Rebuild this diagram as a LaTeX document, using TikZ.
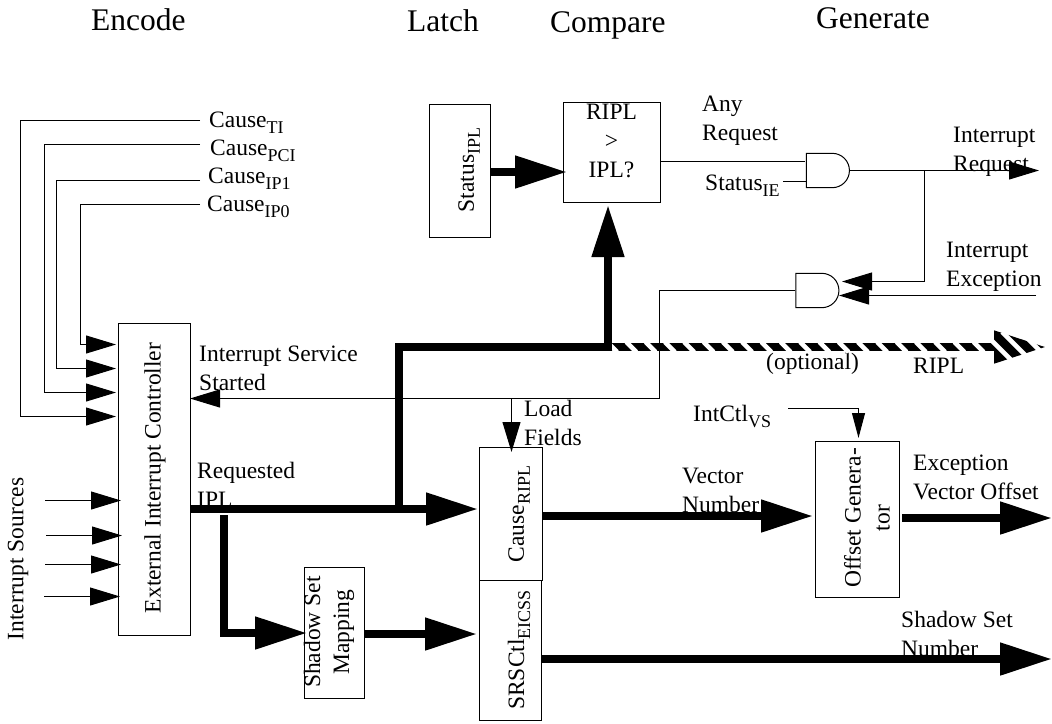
\documentclass[tikz,border=0pt]{standalone}
\usepackage{fontspec}
\setmainfont{Liberation Serif}
\usetikzlibrary{arrows.meta}
\usetikzlibrary{shapes.gates.logic.US}

\newcommand{\lowsub}[1]{\raisebox{-6pt}{\fontsize{18}{18}\selectfont #1}}

\tikzset{
    every node/.style={inner sep=0pt, font=\fontsize{23.5}{29}\selectfont},
    titletext/.style={anchor=base west, font=\fontsize{31.5}{36}\selectfont},
    labeltext/.style={anchor=base west, align=left},
    sidetext/.style={rotate=90, align=center},
    blockbox/.style={draw=black, line width=1pt, fill=white},
    gatebox/.style={and gate US, draw=black, line width=1pt, logic gate inputs=nn, minimum width=43pt, minimum height=33pt},
    sigline/.style={line width=1pt},
    sigarrow/.style={line width=1pt, -{Triangle[length=30pt, width=18pt]}},
    vsarrow/.style={line width=1pt, -{Triangle[length=25pt, width=13pt]}},
    busarrow/.style={line width=8pt, -{Triangle[length=52pt, width=31pt]}},
}

\begin{document}
\begin{tikzpicture}[x=1pt, y=-1pt]
    \useasboundingbox (0,0) rectangle (1052,723);

    \node[titletext] (encodetitle) at (91,30) {Encode};
    \node[titletext] (latchtitle) at (407,31) {Latch};
    \node[titletext] (comparetitle) at (550,32) {Compare};
    \node[titletext] (generatetitle) at (816,28) {Generate};

    \node[blockbox, minimum width=61pt, minimum height=133pt] (statusbox) at (459.5,170.5) {};
    \node[sidetext] (statustext) at (469,170) {Status\lowsub{IPL}};
    \node[blockbox, minimum width=97pt, minimum height=100pt] (comparebox) at (611.5,152) {};
    \node[align=center] (comparetext) at (611.5,141) {RIPL\\>\\IPL?};
    \node[blockbox, minimum width=72pt, minimum height=312pt] (extbox) at (154,479) {};
    \node[sidetext] (exttext) at (155,478) {External Interrupt Controller};
    \node[blockbox, minimum width=60pt, minimum height=131pt] (shadowbox) at (334,632.5) {};
    \node[sidetext] (shadowtext) at (329,632) {Shadow Set\\Mapping};
    \node[blockbox, minimum width=63pt, minimum height=133pt] (causebox) at (510.5,513.5) {};
    \node[sidetext] (causetext) at (519,514) {Cause\lowsub{RIPL}};
    \node[blockbox, minimum width=62pt, minimum height=140pt] (srsbox) at (510,650) {};
    \node[sidetext] (srstext) at (519,650) {SRSCtl\lowsub{EICSS}};
    \node[blockbox, minimum width=84pt, minimum height=156pt] (offsetbox) at (857,519) {};
    \node[sidetext] (offsettext) at (867,518) {Offset Genera-\\tor};

    \node[gatebox] (gaterequest) at (826.5,170.5) {};
    \node[gatebox, shape border rotate=180] (gateexception) at (816,290.5) {};

    \node[labeltext] (causeti) at (209,127) {Cause\lowsub{TI}};
    \node[labeltext] (causepci) at (210,155) {Cause\lowsub{PCI}};
    \node[labeltext] (causeipone) at (208,183) {Cause\lowsub{IP1}};
    \node[labeltext] (causeipzero) at (207,211) {Cause\lowsub{IP0}};
    \node[labeltext] (anyrequest) at (702,140) {Any\\Request};
    \node[labeltext] (statusie) at (705,190) {Status\lowsub{IE}};
    \node[labeltext] (intrequest) at (953,171) {Interrupt\\Request};
    \node[labeltext] (intexception) at (946,286) {Interrupt\\Exception};
    \node[labeltext] (optional) at (766,369) {(optional)};
    \node[labeltext] (ripltext) at (913,373) {RIPL};
    \node[labeltext] (servicestarted) at (199,390) {Interrupt Service\\Started};
    \node[labeltext] (loadfields) at (524,445) {Load\\Fields};
    \node[labeltext] (intctl) at (693,421) {IntCtl\lowsub{VS}};
    \node[labeltext] (requested) at (197,507) {Requested\\IPL};
    \node[labeltext] (vectornumber) at (682,512) {Vector\\Number};
    \node[labeltext] (vectoroffset) at (913,499) {Exception\\Vector Offset};
    \node[labeltext] (shadownumber) at (901,656) {Shadow Set\\Number};
    \node[sidetext] (sources) at (18,559) {Interrupt Sources};

    \coordinate (tione) at (200,120.5);
    \coordinate (titwo) at (20.5,120.5);
    \coordinate (tithree) at (20.5,416.5);
    \coordinate (titip) at (116,416.5);
    \coordinate (pcione) at (200,144.5);
    \coordinate (pcitwo) at (44.5,144.5);
    \coordinate (pcithree) at (44.5,392.5);
    \coordinate (pcitip) at (116,392.5);
    \coordinate (ipone) at (200,180.5);
    \coordinate (iptwo) at (56.5,180.5);
    \coordinate (ipthree) at (56.5,368.5);
    \coordinate (iptip) at (116,368.5);
    \coordinate (ipzero) at (200,204.5);
    \coordinate (ipzerotwo) at (80.5,204.5);
    \coordinate (ipzerothree) at (80.5,344.5);
    \coordinate (ipzerotip) at (116,344.5);

    \draw[sigarrow] (tione) -- (titwo) -- (tithree) -- (titip);
    \draw[sigarrow] (pcione) -- (pcitwo) -- (pcithree) -- (pcitip);
    \draw[sigarrow] (ipone) -- (iptwo) -- (ipthree) -- (iptip);
    \draw[sigarrow] (ipzero) -- (ipzerotwo) -- (ipzerothree) -- (ipzerotip);

    \coordinate (srcone) at (45,500.5);
    \coordinate (srconetip) at (121,500.5);
    \coordinate (srctwo) at (46,535.5);
    \coordinate (srctwotip) at (122,535.5);
    \coordinate (srcthree) at (45,564.5);
    \coordinate (srcthreetip) at (121,564.5);
    \coordinate (srcfour) at (44,596.5);
    \coordinate (srcfourtip) at (120,596.5);

    \draw[sigarrow] (srcone) -- (srconetip);
    \draw[sigarrow] (srctwo) -- (srctwotip);
    \draw[sigarrow] (srcthree) -- (srcthreetip);
    \draw[sigarrow] (srcfour) -- (srcfourtip);

    \coordinate (ripldash) at (604,347);
    \coordinate (ripltip) at (1046,347);
    \draw[busarrow] (ripldash) -- (ripltip);
    \foreach \k in {0,...,19} {
        \draw[white, line width=4.6pt] ({607+19.3*\k},342) -- ({617+19.3*\k},352);
    }
    \foreach \x in {993,1012,1031} {
        \draw[white, line width=4.6pt] ({\x-10},332) -- ({\x+20},362);
    }

    \coordinate (buscornerone) at (399,509);
    \coordinate (buscornertwo) at (399,347);
    \coordinate (buscornerthree) at (608,347);
    \coordinate (comparetip) at (608,205);
    \coordinate (causetip) at (478,509);
    \coordinate (shadowstart) at (224,515);
    \coordinate (shadowcorner) at (224,633);
    \coordinate (shadowtip) at (307,633);
    \coordinate (srstip) at (477,634);
    \coordinate (vectortip) at (813,516);
    \coordinate (offsetstart) at (902,518);
    \coordinate (offsettip) at (1052,518);
    \coordinate (numbertip) at (1052,659);
    \coordinate (statustip) at (567,172);

    \draw[busarrow] (buscornerone) -- (buscornertwo) -- (buscornerthree) -- (comparetip);
    \draw[busarrow] (extbox.east |- causetip) -- (causetip);
    \draw[busarrow] (shadowstart) -- (shadowcorner) -- (shadowtip);
    \draw[busarrow] (shadowbox.east |- srstip) -- (srstip);
    \draw[busarrow] (causebox.east |- vectortip) -- (vectortip);
    \draw[busarrow] (offsetstart) -- (offsettip);
    \draw[busarrow] (srsbox.east |- numbertip) -- (numbertip);
    \draw[busarrow] (statusbox.east |- statustip) -- (statustip);

    \coordinate (anyend) at (805,161.5);
    \coordinate (iestart) at (783,181.5);
    \coordinate (ieend) at (807,181.5);
    \coordinate (reqtip) at (1039,170.5);
    \coordinate (reqbranch) at (924.5,170.5);
    \coordinate (branchcorner) at (924.5,281.5);
    \coordinate (branchtip) at (842,281.5);
    \coordinate (excstart) at (1036,295.5);
    \coordinate (exctip) at (839,295.5);
    \coordinate (servicecorner) at (659.5,290.5);
    \coordinate (servicelow) at (659.5,398.5);
    \coordinate (servicetip) at (190,398.5);
    \coordinate (loadstart) at (511.5,398.5);
    \coordinate (loadtip) at (511.5,452);
    \coordinate (vsstart) at (788,408.5);
    \coordinate (vscorner) at (858.5,408.5);
    \coordinate (vstip) at (858.5,438);

    \draw[sigline] (comparebox.east |- anyend) -- (anyend);
    \draw[sigline] (iestart) -- (ieend);
    \draw[sigarrow] (gaterequest.east |- reqtip) -- (reqtip);
    \draw[sigarrow] (reqbranch) -- (branchcorner) -- (branchtip);
    \draw[sigarrow] (excstart) -- (exctip);
    \draw[sigarrow] (gateexception.west |- servicecorner) -- (servicecorner) -- (servicelow) -- (servicetip);
    \draw[sigarrow] (loadstart) -- (loadtip);
    \draw[vsarrow] (vsstart) -- (vscorner) -- (vstip);
\end{tikzpicture}
\end{document}
